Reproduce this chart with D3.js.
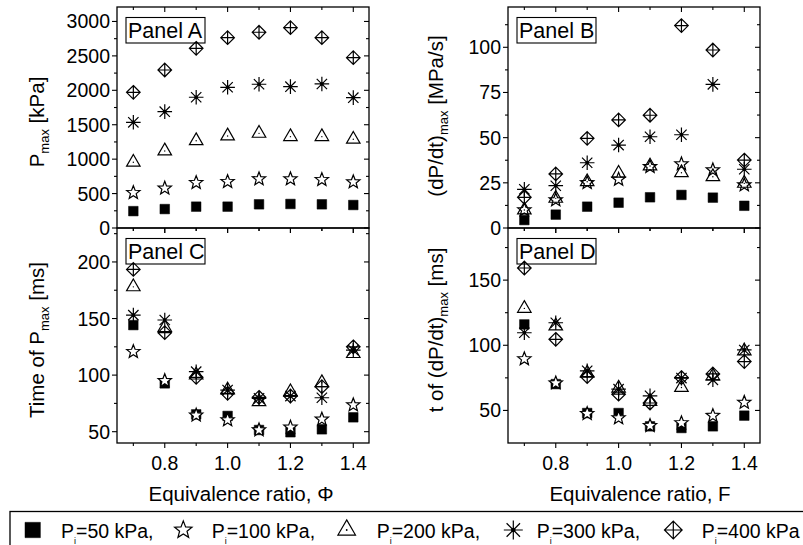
<!DOCTYPE html>
<html>
<head>
<meta charset="utf-8">
<script src="https://cdn.jsdelivr.net/npm/d3@7"></script>
<style>
  body { margin: 0; background: #fff; }
  text, tspan { font-family: "Liberation Sans", Arial, sans-serif; fill: #000; }
</style>
</head>
<body>
<div id="chart-area"></div>
<script>
// equivalence ratio (x values, shared by all panels)
const phi = [0.7, 0.8, 0.9, 1.0, 1.1, 1.2, 1.3, 1.4]
const initialPressures = ["50", "100", "200", "300", "400"]
const markerTypes = ["square", "star", "triangle", "asterisk", "diamond"]

// Panel A: P max [kPa], one row per initial pressure
const pMax = [
	[245, 275, 310, 310, 344, 349, 344, 334],
	[513, 577, 658, 673, 712, 712, 702, 668],
	[954, 1119, 1268, 1337, 1375, 1327, 1327, 1288],
	[1535, 1690, 1899, 2044, 2088, 2053, 2092, 1893],
	[1971, 2295, 2610, 2765, 2843, 2910, 2765, 2474]
]
// Panel B: (dP/dt) max [MPa/s]
const dpdtMax = [
	[4.4, 7.4, 11.8, 14.0, 17.0, 18.3, 16.8, 12.3],
	[10, 15.5, 25, 26.9, 33.9, 35.4, 32.1, 23.8],
	[10, 16.4, 25.6, 30.3, 34.3, 30.6, 28.4, 24.7],
	[21.4, 23.4, 36.1, 45.9, 50.5, 51.6, 79.5, 32.5],
	[17.0, 29.9, 49.6, 59.8, 62.4, 112, 98.5, 37.6]
]
// Panel C: time of P max [ms]
const timePMax = [
	[144.2, 92.7, 65.3, 63.9, 51.5, 49.5, 52.1, 62.7],
	[120.7, 95, 64.5, 60.3, 51.5, 53.9, 61, 73.6],
	[178, 142, 100, 86.8, 76.5, 85.3, 93.3, 119],
	[153, 148.7, 103, 86.8, 79.5, 81.5, 80, 122],
	[193.4, 137.5, 98, 83.9, 80.4, 81.5, 89.8, 125]
]
// Panel D: t of (dP/dt) max [ms]
const timeDpdtMax = [
	[116, 70.2, 48, 48, 37.8, 36.5, 37.8, 46],
	[89.5, 71, 47.5, 44.2, 38.3, 40.4, 46, 56.1],
	[128.3, 114.8, 78.6, 67.1, 56.9, 67.6, 76.5, 95.6],
	[109.6, 117.3, 80.4, 66.3, 61.2, 74.8, 73.5, 96.4],
	[159.3, 104.6, 76, 62.5, 55.7, 75.2, 78, 87.5]
]

// tick values
const xMajor = [0.8, 1.0, 1.2, 1.4]
const xMinor = [0.7, 0.9, 1.1, 1.3]
const yMajorA = [0, 500, 1000, 1500, 2000, 2500, 3000]
const yMinorA = [250, 750, 1250, 1750, 2250, 2750]
const yMajorB = [0, 25, 50, 75, 100]
const yMinorB = [12.5, 37.5, 62.5, 87.5, 112.5]
const yMajorC = [50, 100, 150, 200]
const yMinorC = [75, 125, 175, 225]
const yMajorD = [50, 100, 150]
const yMinorD = [75, 125, 175]

const svg = d3.select("#chart-area").append("svg")
	.attr("width", 803)
	.attr("height", 545)

const X_DOMAIN = [0.648, 1.45]

const panels = [
	{ name: "Panel A", left: 117, right: 369, top: 7, bottom: 228, yDomain: [0, 3210],
		data: pMax, major: yMajorA, minor: yMinorA, title: ["P", "max", " [kPa]"], titleY: 122, showX: false },
	{ name: "Panel B", left: 508, right: 760, top: 7, bottom: 228, yDomain: [0, 122.3],
		data: dpdtMax, major: yMajorB, minor: yMinorB, title: ["(dP/dt)", "max", " [MPa/s]"], titleY: 116, showX: false },
	{ name: "Panel C", left: 117, right: 369, top: 228, bottom: 443, yDomain: [40, 230],
		data: timePMax, major: yMajorC, minor: yMinorC, title: ["Time of P", "max", " [ms]"], titleY: 340, showX: true,
		xTitle: "Equivalence ratio, \u03A6", xTitleX: 241 },
	{ name: "Panel D", left: 508, right: 760, top: 228, bottom: 443, yDomain: [25, 190],
		data: timeDpdtMax, major: yMajorD, minor: yMinorD, title: ["t of (dP/dt)", "max", " [ms]"], titleY: 330, showX: true,
		xTitle: "Equivalence ratio, F", xTitleX: 640 }
]

// marker shapes, centred on 0,0
function markerPath(type, k) {
	const p = d3.path()
	if (type === "square") {
		const s = 4.8 * k
		p.rect(-s, -s, 2 * s, 2 * s)
	} else if (type === "star") {
		const R = 7 * k, r = 3 * k
		for (let i = 0; i < 10; i++) {
			const a = -Math.PI / 2 + i * Math.PI / 5
			const rad = i % 2 === 0 ? R : r
			if (i === 0) p.moveTo(rad * Math.cos(a), rad * Math.sin(a))
			else p.lineTo(rad * Math.cos(a), rad * Math.sin(a))
		}
		p.closePath()
	} else if (type === "triangle") {
		const w = 13.5 * k, h = w * 0.866
		p.moveTo(0, -2 * h / 3); p.lineTo(w / 2, h / 3); p.lineTo(-w / 2, h / 3); p.closePath()
	} else if (type === "asterisk") {
		const R = 7.3 * k
		for (let i = 0; i < 4; i++) {
			const a = i * Math.PI / 4
			p.moveTo(R * Math.cos(a), R * Math.sin(a))
			p.lineTo(-R * Math.cos(a), -R * Math.sin(a))
		}
	} else if (type === "diamond") {
		const R = 6.8 * k
		p.moveTo(0, -R); p.lineTo(R, 0); p.lineTo(0, R); p.lineTo(-R, 0); p.closePath()
		p.moveTo(0, -R); p.lineTo(0, R)
		p.moveTo(-R, 0); p.lineTo(R, 0)
	}
	return p.toString()
}

function drawMarker(sel, type, k) {
	sel.append("path")
		.attr("d", markerPath(type, k))
		.attr("fill", type === "square" ? "#000" : (type === "star" ? "#fff" : "none"))
		.attr("stroke", "#000")
		.attr("stroke-width", type === "square" ? 0.5 : 1.2)
		.attr("stroke-linejoin", "miter")
	if (type === "triangle") {
		sel.append("circle").attr("r", 0.7 * k).attr("fill", "#000")
	}
	if (type === "asterisk") {
		sel.append("circle").attr("r", 1.8 * k).attr("fill", "#000")
	}
}

panels.forEach(P => {
	const x = d3.scaleLinear().domain(X_DOMAIN).range([P.left, P.right])
	const y = d3.scaleLinear().domain(P.yDomain).range([P.bottom, P.top])
	const g = svg.append("g")

	// frame
	g.append("rect")
		.attr("x", P.left).attr("y", P.top)
		.attr("width", P.right - P.left).attr("height", P.bottom - P.top)
		.attr("fill", "none").attr("stroke", "#000").attr("stroke-width", 1.3)

	// x ticks (all point down): top edge and bottom edge
	const xt = xMajor.map(v => ({ v, len: 5 })).concat(xMinor.map(v => ({ v, len: 3 })))
	;[P.top, P.bottom].forEach(yy => {
		g.selectAll(null).data(xt).enter().append("line")
			.attr("x1", d => x(d.v)).attr("x2", d => x(d.v))
			.attr("y1", yy).attr("y2", d => yy + d.len)
			.attr("stroke", "#000").attr("stroke-width", 1.1)
	})

	// y ticks (all point left): left edge and right edge
	const yt = P.major.map(v => ({ v, len: 5 })).concat(P.minor.map(v => ({ v, len: 3 })))
		.filter(d => d.v >= P.yDomain[0] && d.v <= P.yDomain[1])
	;[P.left, P.right].forEach(xx => {
		g.selectAll(null).data(yt).enter().append("line")
			.attr("x1", xx).attr("x2", d => xx - d.len)
			.attr("y1", d => y(d.v)).attr("y2", d => y(d.v))
			.attr("stroke", "#000").attr("stroke-width", 1.1)
	})

	// y tick labels
	g.selectAll(null).data(P.major).enter().append("text")
		.attr("x", P.left - 7)
		.attr("y", d => y(d))
		.attr("dy", "0.36em")
		.attr("text-anchor", "end")
		.attr("font-size", "19.5px")
		.text(d => d)

	// x tick labels
	if (P.showX) {
		g.selectAll(null).data(xMajor).enter().append("text")
			.attr("x", d => x(d))
			.attr("y", 469.5)
			.attr("text-anchor", "middle")
			.attr("font-size", "19.5px")
			.text(d => d3.format(".1f")(d))
		g.append("text")
			.attr("x", P.xTitleX).attr("y", 501)
			.attr("text-anchor", "middle")
			.attr("font-size", "20.5px")
			.text(P.xTitle)
	}

	// y title with subscript
	const tx = P.left < 200 ? 44 : 443
	const yTitle = g.append("text")
		.attr("transform", `translate(${tx}, ${P.titleY}) rotate(-90)`)
		.attr("text-anchor", "middle")
		.attr("font-size", "20.5px")
	yTitle.append("tspan").text(P.title[0])
	yTitle.append("tspan").attr("font-size", "13px").attr("dy", 5).text(P.title[1])
	yTitle.append("tspan").attr("dy", -5).text(P.title[2])

	// panel label box
	g.append("rect")
		.attr("x", P.left + 9).attr("y", P.top + 10.5)
		.attr("width", 79).attr("height", 25.5)
		.attr("fill", "#fff").attr("stroke", "#000").attr("stroke-width", 1.1)
	g.append("text")
		.attr("x", P.left + 11).attr("y", P.top + 30.5)
		.attr("font-size", "21.5px")
		.text(P.name)

	// markers
	P.data.forEach((row, si) => {
		const pts = g.selectAll(null).data(row.map((v, i) => ({ x: phi[i], y: v })))
			.enter().append("g")
			.attr("transform", d => `translate(${x(d.x)}, ${y(d.y)})`)
		pts.each(function () { drawMarker(d3.select(this), markerTypes[si], 1) })
	})
})

// legend
const legend = svg.append("g")
legend.append("rect")
	.attr("x", 10).attr("y", 511.5)
	.attr("width", 820).attr("height", 60)
	.attr("fill", "none").attr("stroke", "#000").attr("stroke-width", 1.3)

const legendSymbolX = [32.7, 183.3, 346.7, 513.3, 673.3]
const legendTextX = [61, 211.7, 376.7, 536.7, 701.7]
initialPressures.forEach((p, i) => {
	const m = legend.append("g").attr("transform", `translate(${legendSymbolX[i]}, 530)`)
	drawMarker(m, markerTypes[i], i === 0 ? 1.6 : 1.3)
	const t = legend.append("text")
		.attr("x", legendTextX[i]).attr("y", 538)
		.attr("font-size", "19.5px")
	t.append("tspan").text("P")
	t.append("tspan").attr("font-size", "9px").attr("dy", 6).attr("fill", "#000").text("i")
	t.append("tspan").attr("dy", -6).text(`=${p} kPa` + (i < initialPressures.length - 1 ? "," : ""))
})
</script>
</body>
</html>
